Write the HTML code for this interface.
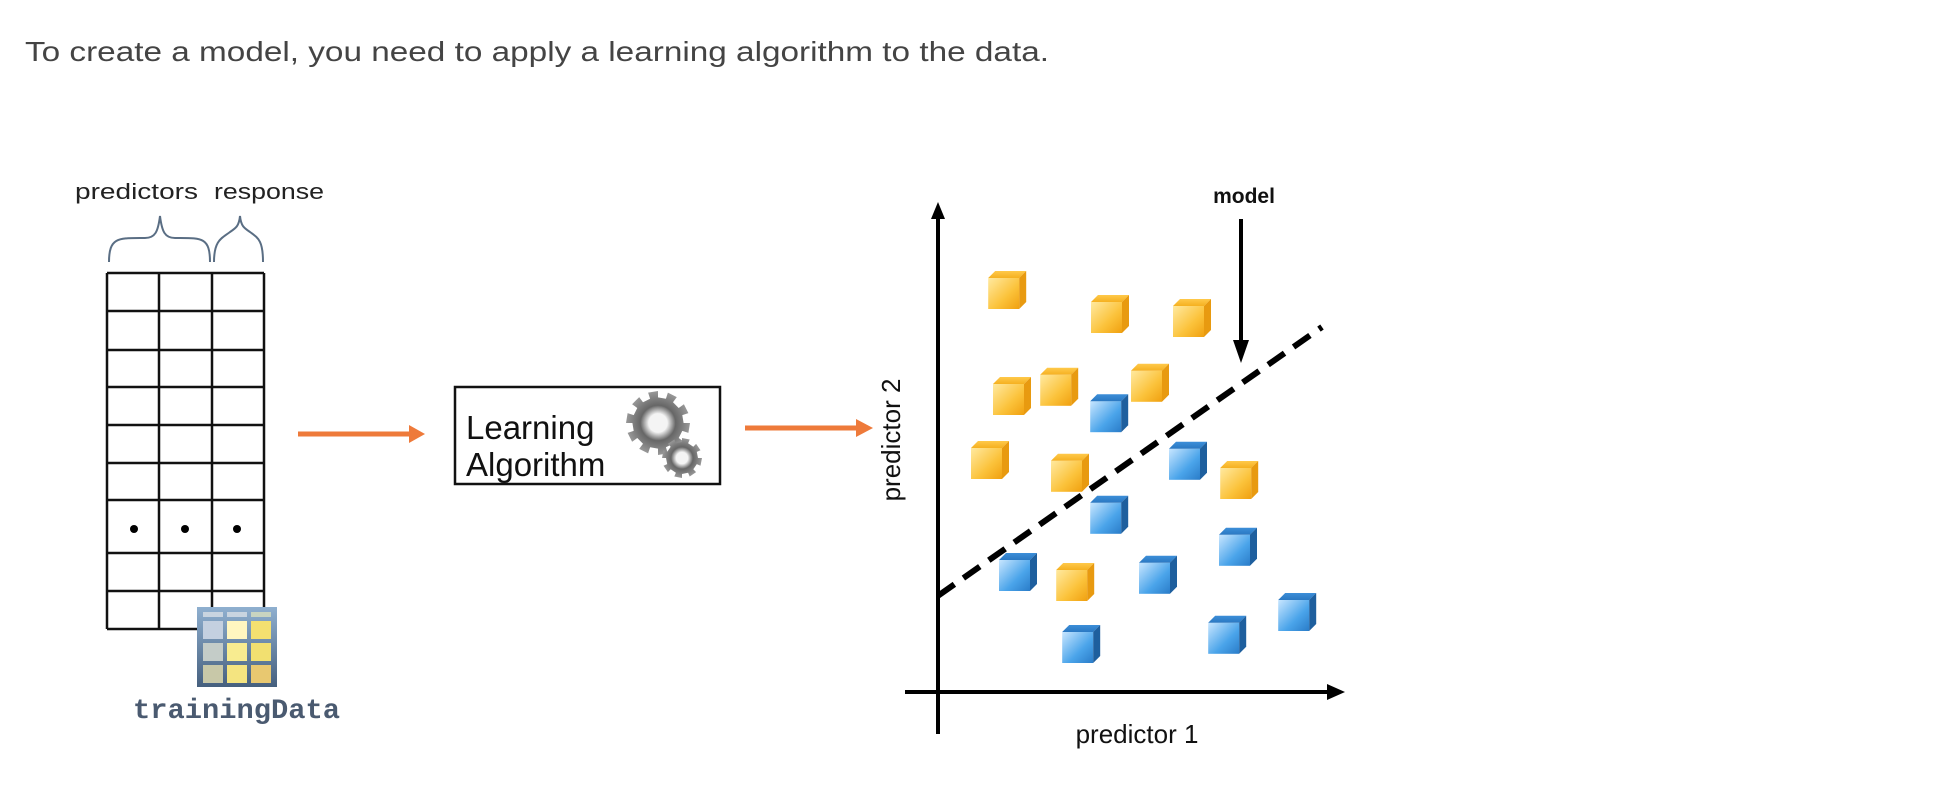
<!DOCTYPE html>
<html><head><meta charset="utf-8"><style>
html,body{margin:0;padding:0;background:#fff;}
svg{display:block;font-family:"Liberation Sans",Arial,sans-serif;}
</style></head><body>
<svg id="fig" width="1940" height="794" viewBox="0 0 1940 794">
<defs>
<linearGradient id="yel" x1="0" y1="0" x2="1" y2="1"><stop offset="0" stop-color="#ffe9a0"/><stop offset="0.6" stop-color="#fbc23a"/><stop offset="1" stop-color="#f0a010"/></linearGradient>
<linearGradient id="yelTop" x1="0" y1="0" x2="0" y2="1"><stop offset="0" stop-color="#ffc94a"/><stop offset="1" stop-color="#f5b020"/></linearGradient>
<linearGradient id="blu" x1="0" y1="0" x2="1" y2="1"><stop offset="0" stop-color="#c8e6ff"/><stop offset="0.6" stop-color="#4aa4ea"/><stop offset="1" stop-color="#2a7cc8"/></linearGradient>
<linearGradient id="bluTop" x1="0" y1="0" x2="0" y2="1"><stop offset="0" stop-color="#3c8ed8"/><stop offset="1" stop-color="#2a78c2"/></linearGradient>
<linearGradient id="icon" x1="0" y1="0" x2="0" y2="1"><stop offset="0" stop-color="#8fb0d0"/><stop offset="1" stop-color="#46607e"/></linearGradient>
<radialGradient id="gear" cx="0.5" cy="0.5" r="0.5"><stop offset="0.3" stop-color="#eee"/><stop offset="0.55" stop-color="#666"/><stop offset="1" stop-color="#999"/></radialGradient>
</defs>

<text x="25" y="61" font-size="28" fill="#444" textLength="1024" lengthAdjust="spacingAndGlyphs">To create a model, you need to apply a learning algorithm to the data.</text>

<g>
<text x="75" y="199" font-size="22" fill="#222" textLength="123" lengthAdjust="spacingAndGlyphs">predictors</text>
<text x="214" y="199" font-size="22" fill="#222" textLength="110" lengthAdjust="spacingAndGlyphs">response</text>
<path d="M109,262 C109,238 118,238 140,238 L145,238 C155,238 158,232 160,216 C162,232 165,238 175,238 L180,238 C202,238 210,238 210,262" fill="none" stroke="#5a6e84" stroke-width="2"/>
<path d="M214,262 C214,240 222,238 230,232 C236,228 239,226 240,216 C241,226 244,228 250,232 C258,238 263,240 263,262" fill="none" stroke="#5a6e84" stroke-width="2"/>
<g id="grid" stroke="#111" stroke-width="2.5"></g>
<circle cx="134" cy="529" r="4" fill="#000"/><circle cx="185" cy="529" r="4" fill="#000"/><circle cx="237" cy="529" r="4" fill="#000"/>
<g>
<rect x="197" y="607" width="80" height="80" fill="url(#icon)"/>
<rect x="203" y="612" width="20" height="5" fill="#c8d4e0"/><rect x="227" y="612" width="20" height="5" fill="#c8d4e0"/><rect x="251" y="612" width="20" height="5" fill="#c8d4c0"/>
<rect x="203" y="621" width="20" height="18" fill="#c4d0e0"/><rect x="227" y="621" width="20" height="18" fill="#fff6c0"/><rect x="251" y="621" width="20" height="18" fill="#f4e070"/>
<rect x="203" y="643" width="20" height="18" fill="#c4ccc8"/><rect x="227" y="643" width="20" height="18" fill="#f8ec90"/><rect x="251" y="643" width="20" height="18" fill="#f2e070"/>
<rect x="203" y="665" width="20" height="18" fill="#c8c8a8"/><rect x="227" y="665" width="20" height="18" fill="#f4e480"/><rect x="251" y="665" width="20" height="18" fill="#e8c870"/>
</g>
<text x="133" y="718" font-family="'Liberation Mono',monospace" font-weight="bold" font-size="28" fill="#4a5a70" textLength="207" lengthAdjust="spacingAndGlyphs">trainingData</text>
</g>

<g><line x1="298" y1="434" x2="411" y2="434" stroke="#ee7a3a" stroke-width="5"/><polygon points="409,425 425,434 409,443" fill="#ee7a3a"/></g>

<g>
<rect x="455" y="387" width="265" height="97" fill="#fff" stroke="#111" stroke-width="2.5"/>
<text x="466" y="439" font-size="33" fill="#111">Learning</text>
<text x="466" y="476" font-size="33" fill="#111">Algorithm</text>
<g id="gears"></g>
</g>

<g><line x1="745" y1="428" x2="858" y2="428" stroke="#ee7a3a" stroke-width="5"/><polygon points="856,419 873,428 856,437" fill="#ee7a3a"/></g>

<g id="chart">
<line x1="938" y1="210" x2="938" y2="734" stroke="#000" stroke-width="4"/>
<polygon points="931,219 938,202 945,219" fill="#000"/>
<line x1="905" y1="692" x2="1333" y2="692" stroke="#000" stroke-width="4"/>
<polygon points="1327,684 1345,692 1327,700" fill="#000"/>
<text transform="translate(900,440) rotate(-90)" text-anchor="middle" font-size="26" fill="#111">predictor 2</text>
<text x="1137" y="743" text-anchor="middle" font-size="26" fill="#111">predictor 1</text>
<text x="1244" y="203" text-anchor="middle" font-size="21" font-weight="bold" fill="#111">model</text>
<g><line x1="1241" y1="219" x2="1241" y2="344" stroke="#000" stroke-width="4"/><polygon points="1233,340 1249,340 1241,363" fill="#000"/></g>
<g id="marks"></g>
</g>
</svg>
<script>
// Scatter data (predictor 1, predictor 2)
const class1X = [1.73, 4.3, 6.35, 1.85, 3.03, 5.3, 1.3, 3.3, 7.53, 3.43];
const class1Y = [10.1, 9.5, 9.4, 7.45, 7.68, 7.78, 5.85, 5.53, 5.35, 2.8];
const class2X = [4.28, 6.25, 4.28, 7.5, 2.0, 5.5, 8.98, 3.58, 7.23];
const class2Y = [7.02, 5.83, 4.48, 3.68, 3.05, 2.98, 2.05, 1.25, 1.48];
const boundaryX = [0, 9.6];
const boundaryY = [2.48, 9.2];

const NS = 'http://www.w3.org/2000/svg';
const xs = v => 938 + v * 40;
const ys = v => 695 - v * 40;

// table grid
const grid = document.getElementById('grid');
const cols = [107, 159, 212, 264], rows = [273, 311, 350, 387, 425, 463, 500, 553, 591, 629];
function ln(p, x1, y1, x2, y2) { const l = document.createElementNS(NS, 'line'); l.setAttribute('x1', x1); l.setAttribute('y1', y1); l.setAttribute('x2', x2); l.setAttribute('y2', y2); p.appendChild(l); return l; }
cols.forEach(c => { const l = ln(grid, c, rows[0], c, rows[rows.length - 1]);

 });
rows.forEach(r => { const l = ln(grid, cols[0], r, cols[3], r);

 });

// gears
const gears = document.getElementById('gears');
function gear(cx, cy, r, teeth) {
  const g = document.createElementNS(NS, 'g');
  let d = '';
  for (let i = 0; i < teeth * 2; i++) {
    const a0 = i * Math.PI / teeth, a1 = (i + 1) * Math.PI / teeth;
    const rr = i % 2 ? r * 0.8 : r;
    d += (i ? 'L' : 'M') + (cx + rr * Math.cos(a0)).toFixed(1) + ',' + (cy + rr * Math.sin(a0)).toFixed(1) + 'L' + (cx + rr * Math.cos(a1)).toFixed(1) + ',' + (cy + rr * Math.sin(a1)).toFixed(1);
  }
  const p = document.createElementNS(NS, 'path'); p.setAttribute('d', d + 'Z'); p.setAttribute('fill', 'url(#gear)'); g.appendChild(p);
  const c = document.createElementNS(NS, 'circle'); c.setAttribute('cx', cx); c.setAttribute('cy', cy); c.setAttribute('r', r * 0.3); c.setAttribute('fill', '#f4f4f4'); g.appendChild(c);
  gears.appendChild(g);
}
gear(658, 423, 32, 10);
gear(682, 458, 20, 8);

// boundary
const marks = document.getElementById('marks');
const bl = ln(marks, xs(boundaryX[0]), ys(boundaryY[0]), xs(boundaryX[1]), ys(boundaryY[1]));
bl.setAttribute('stroke', '#000'); bl.setAttribute('stroke-width', '6'); bl.setAttribute('stroke-dasharray', '20 11');



function cube(x, y, front, top, side) {
  const g = document.createElementNS(NS, 'g');
  const s = 31, d = 7;
  const x0 = x - 19, y0 = y - 13;
  const shapes = [
    ['rect', { x: x0, y: y0, width: s, height: s, fill: front }],
    ['polygon', { points: `${x0},${y0} ${x0 + d},${y0 - d} ${x0 + s + d},${y0 - d} ${x0 + s},${y0}`, fill: top }],
    ['polygon', { points: `${x0 + s},${y0} ${x0 + s + d},${y0 - d} ${x0 + s + d},${y0 + s - d} ${x0 + s},${y0 + s}`, fill: side }]
  ];
  shapes.forEach(([t, a]) => { const e = document.createElementNS(NS, t); for (const k in a) e.setAttribute(k, a[k]); g.appendChild(e); });
  marks.appendChild(g);
  return g;
}
class1X.forEach((v, i) => { const g = cube(xs(v), ys(class1Y[i]), 'url(#yel)', 'url(#yelTop)', '#e89a10');

 });
class2X.forEach((v, i) => { const g = cube(xs(v), ys(class2Y[i]), 'url(#blu)', 'url(#bluTop)', '#1e5f9e');

 });
</script>
</body></html>
